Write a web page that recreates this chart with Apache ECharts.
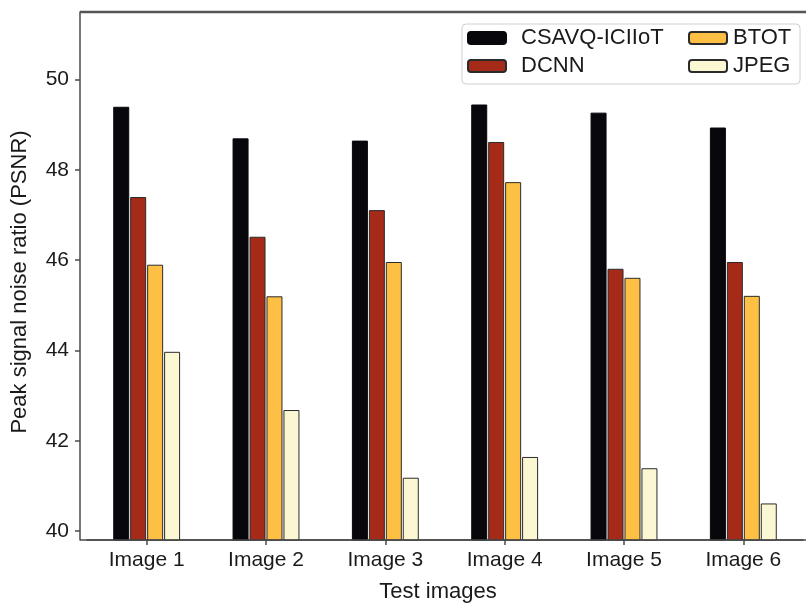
<!DOCTYPE html>
<html>
<head>
<meta charset="utf-8">
<script src="https://cdn.jsdelivr.net/npm/echarts@6/dist/echarts.min.js"></script>
<style>html,body{margin:0;padding:0;background:#fff}#c{width:806px;height:603px}</style>
</head>
<body>
<div id="c"></div>
<script>
const categories = ['Image 1', 'Image 2', 'Image 3', 'Image 4', 'Image 5', 'Image 6'];
const csavq = [49.40, 48.70, 48.65, 49.45, 49.27, 48.94];
const dcnn  = [47.40, 46.52, 47.11, 48.62, 45.81, 45.96];
const btot  = [45.90, 45.20, 45.96, 47.73, 45.61, 45.21];
const jpeg  = [43.97, 42.68, 41.18, 41.64, 41.39, 40.61];
const yTicks = [40, 42, 44, 46, 48, 50];
const seriesNames = ['CSAVQ-ICIIoT', 'DCNN', 'BTOT', 'JPEG'];
const colors = ['#08070c', '#a62a18', '#fdbf44', '#fbf7d3'];

const FONT = "'Liberation Sans', Arial, sans-serif";
const TXT = '#1a1a1a';
const chart = echarts.init(document.getElementById('c'), null, {renderer: 'canvas'});
const values = [csavq, dcnn, btot, jpeg];
const series = seriesNames.map((n, i) => ({
  name: n,
  type: 'bar',
  data: values[i],
  barWidth: 16,
  barGap: '6%',
  itemStyle: {color: colors[i], borderColor: i === 0 ? '#08070c' : '#2b2b2b', borderWidth: 1},
  emphasis: {disabled: true}
}));

chart.setOption({
  animation: false,
  backgroundColor: '#fff',
  grid: {left: 87, right: 3, top: 12, bottom: 63, containLabel: false, outerBoundsMode: 'none'},
  legend: [
    {data: ['CSAVQ-ICIIoT', 'DCNN'], orient: 'vertical', left: 467, top: 27, itemWidth: 38, itemHeight: 12, itemGap: 6,
     padding: 0, textStyle: {fontFamily: FONT, fontSize: 22, color: TXT, padding: [0, 0, 0, 10]}},
    {data: ['BTOT', 'JPEG'], orient: 'vertical', left: 688, top: 27, itemWidth: 38, itemHeight: 12, itemGap: 6,
     padding: 0, textStyle: {fontFamily: FONT, fontSize: 22, color: TXT, padding: [0, 0, 0, 1]}}
  ],
  xAxis: {
    type: 'category',
    data: categories,
    name: 'Test images',
    nameLocation: 'middle',
    nameGap: 41,
    nameTextStyle: {fontFamily: FONT, fontSize: 22, color: TXT, padding: [0, 14, 0, 0]},
    axisLine: {show: true, onZero: false, lineStyle: {color: '#4a4a4a', width: 1.5}},
    axisTick: {show: true, alignWithLabel: true, length: 5, lineStyle: {color: '#4a4a4a', width: 1.5}},
    axisLabel: {fontFamily: FONT, fontSize: 21, color: TXT, margin: 10},
    splitLine: {show: false}
  },
  yAxis: {
    type: 'value',
    min: 39.8,
    max: 51.5,
    offset: 7,
    name: 'Peak signal noise ratio (PSNR)',
    nameLocation: 'middle',
    nameGap: 49,
    nameTextStyle: {fontFamily: FONT, fontSize: 22, color: TXT, padding: [0, 12, 0, 0]},
    axisLine: {show: true, lineStyle: {color: '#4a4a4a', width: 1.5}},
    axisTick: {show: true, length: 5, customValues: yTicks, lineStyle: {color: '#4a4a4a', width: 1.5}},
    axisLabel: {fontFamily: FONT, fontSize: 21, color: TXT, margin: 11, customValues: yTicks},
    splitLine: {show: false}
  },
  graphic: [
    {type: 'line', shape: {x1: 80, y1: 12, x2: 806, y2: 12}, style: {stroke: '#555', lineWidth: 2.5}, z: 10},
    {type: 'line', shape: {x1: 80, y1: 540, x2: 806, y2: 540}, style: {stroke: '#4a4a4a', lineWidth: 1.5}, z: 10},
    {type: 'rect', shape: {x: 462, y: 24, width: 338, height: 60, r: 4}, style: {fill: 'rgba(255,255,255,0.85)', stroke: '#d0d0d0', lineWidth: 1}, z: 1}
  ],
  series: series
});
</script>
</body>
</html>
